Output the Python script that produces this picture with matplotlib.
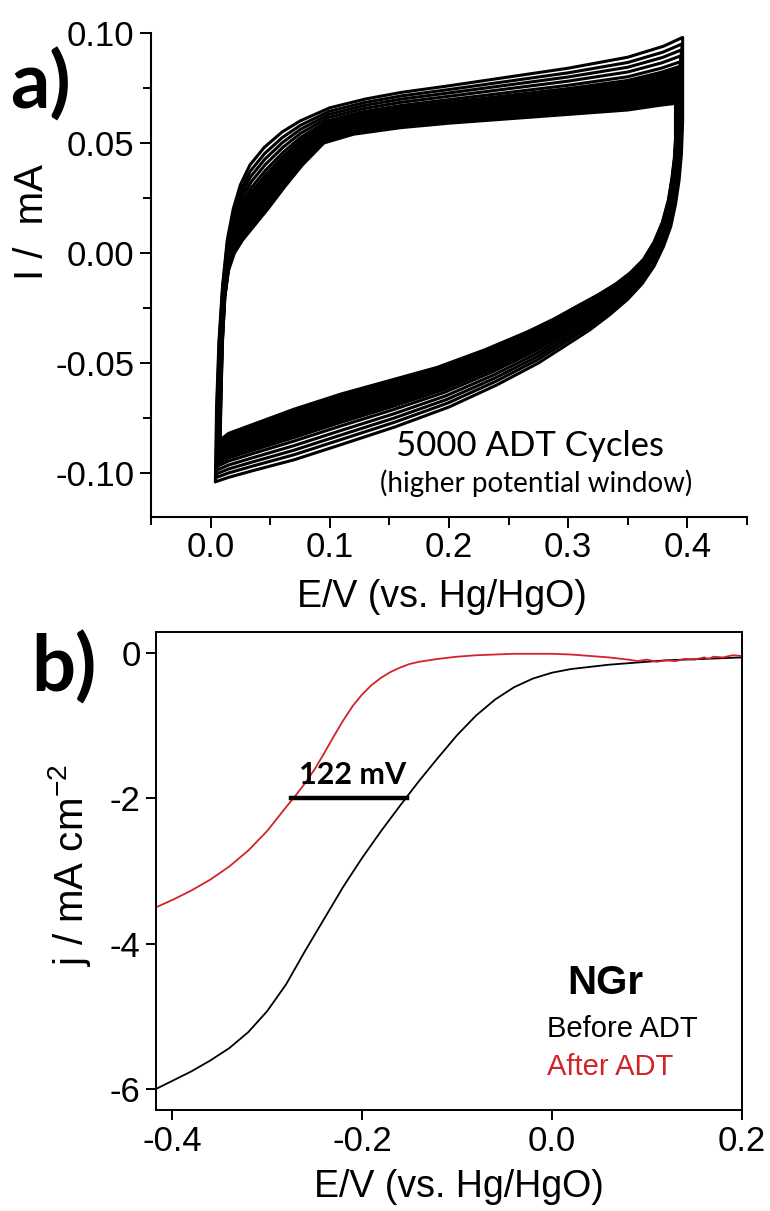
import numpy as np
import matplotlib.pyplot as plt
from matplotlib.ticker import MultipleLocator, FormatStrFormatter

# a) CV envelope: innermost and outermost cycle, closed loop
#    (anodic branch left->right, then cathodic branch right->left)
cv_outer_E = [0.004, 0.005, 0.007, 0.010, 0.014, 0.019, 0.025, 0.033, 0.045, 0.060,
              0.075, 0.100, 0.130, 0.160, 0.200, 0.250, 0.300, 0.350, 0.380, 0.396,
              0.396, 0.396, 0.395, 0.393, 0.390, 0.386, 0.380, 0.372, 0.362, 0.350,
              0.335, 0.318, 0.298, 0.275, 0.240, 0.200, 0.155, 0.110, 0.070, 0.035,
              0.015, 0.004]
cv_outer_I = [-0.104, -0.070, -0.040, -0.015, 0.006, 0.020, 0.031, 0.040, 0.048, 0.055,
              0.060, 0.066, 0.070, 0.073, 0.076, 0.080, 0.084, 0.089, 0.094, 0.098,
              0.080, 0.060, 0.045, 0.033, 0.022, 0.012, 0.003, -0.006, -0.014, -0.021,
              -0.028, -0.035, -0.042, -0.050, -0.060, -0.070, -0.079, -0.087, -0.094, -0.099,
              -0.102, -0.104]
cv_inner_E = [0.008, 0.009, 0.010, 0.012, 0.015, 0.020, 0.027, 0.036, 0.048, 0.062,
              0.077, 0.095, 0.120, 0.160, 0.200, 0.250, 0.300, 0.350, 0.375, 0.390,
              0.390, 0.390, 0.389, 0.387, 0.384, 0.379, 0.372, 0.363, 0.352, 0.340,
              0.325, 0.308, 0.288, 0.265, 0.230, 0.190, 0.150, 0.110, 0.070, 0.035,
              0.015, 0.008]
cv_inner_I = [-0.085, -0.060, -0.040, -0.020, -0.008, 0.000, 0.006, 0.012, 0.020, 0.030,
              0.040, 0.050, 0.054, 0.057, 0.059, 0.061, 0.063, 0.065, 0.067, 0.068,
              0.062, 0.052, 0.043, 0.034, 0.024, 0.014, 0.005, -0.003, -0.009, -0.014,
              -0.019, -0.024, -0.030, -0.036, -0.044, -0.052, -0.058, -0.064, -0.071, -0.078,
              -0.082, -0.085]
# position of each recorded cycle between the inner (0) and outer (1) loop
cycle_pos = [0.0, 0.04, 0.08, 0.12, 0.16, 0.20, 0.24, 0.28, 0.32, 0.36,
             0.40, 0.44, 0.48, 0.52, 0.56, 0.63, 0.72, 0.81, 0.90, 1.0]

# b) LSV before / after ADT
E_before = [-0.417, -0.40, -0.38, -0.36, -0.34, -0.32, -0.30, -0.28, -0.26, -0.24,
            -0.22, -0.20, -0.18, -0.16, -0.14, -0.12, -0.10, -0.08, -0.06, -0.04,
            -0.02, 0.00, 0.02, 0.04, 0.06, 0.08, 0.10, 0.12, 0.14, 0.16, 0.18, 0.20]
j_before = [-6.00, -5.89, -5.76, -5.61, -5.44, -5.22, -4.93, -4.56, -4.10, -3.66,
            -3.22, -2.82, -2.45, -2.10, -1.76, -1.44, -1.13, -0.86, -0.64, -0.47,
            -0.35, -0.27, -0.22, -0.19, -0.16, -0.14, -0.12, -0.10, -0.09, -0.08, -0.07, -0.06]
E_after = [-0.417, -0.40, -0.38, -0.36, -0.34, -0.32, -0.30, -0.28, -0.27, -0.26,
           -0.25, -0.24, -0.23, -0.22, -0.21, -0.20, -0.19, -0.18, -0.17, -0.16,
           -0.15, -0.14, -0.12, -0.10, -0.08, -0.06, -0.04, -0.02, 0.00, 0.02,
           0.04, 0.06, 0.08, 0.09, 0.10, 0.11, 0.12, 0.13, 0.14, 0.15,
           0.16, 0.165, 0.17, 0.18, 0.19, 0.20]
j_after = [-3.50, -3.40, -3.27, -3.12, -2.94, -2.72, -2.45, -2.12, -1.96, -1.79,
           -1.60, -1.38, -1.15, -0.93, -0.73, -0.57, -0.44, -0.34, -0.26, -0.20,
           -0.15, -0.12, -0.08, -0.05, -0.03, -0.02, -0.01, -0.01, -0.01, -0.02,
           -0.04, -0.06, -0.09, -0.11, -0.09, -0.12, -0.10, -0.11, -0.08, -0.09,
           -0.06, -0.08, -0.05, -0.06, -0.03, -0.04]
# potentials at -2 mA cm-2
E_half_after = -0.275
E_half_before = -0.153
j_ref = -2.0

RED = '#d2232a'
SANS = ['Liberation Sans', 'DejaVu Sans']
HUMAN = ['Lato', 'DejaVu Sans']

plt.rcParams['font.family'] = SANS
plt.rcParams['axes.unicode_minus'] = False
plt.rcParams['mathtext.fontset'] = 'custom'
plt.rcParams['mathtext.rm'] = 'Liberation Sans'
plt.rcParams['mathtext.default'] = 'regular'

fig = plt.figure(figsize=(7.7, 12.11), dpi=100)

# ---------- a) CV cycling ----------
ax1 = fig.add_axes([151 / 770, 1 - 517 / 1211, 596 / 770, 484 / 1211])
Eo, Io = np.array(cv_outer_E), np.array(cv_outer_I)
Ei, Ii = np.array(cv_inner_E), np.array(cv_inner_I)
for p in cycle_pos:
    ax1.plot((1 - p) * Ei + p * Eo, (1 - p) * Ii + p * Io, color='black', lw=2.2,
             solid_joinstyle='round', solid_capstyle='round')

ax1.set_xlim(-0.05, 0.45)
ax1.set_ylim(-0.12, 0.10)
ax1.spines[['top', 'right']].set_visible(False)
for s in ax1.spines.values():
    s.set_linewidth(1.5)
ax1.xaxis.set_major_locator(MultipleLocator(0.1))
ax1.xaxis.set_minor_locator(MultipleLocator(0.05))
ax1.yaxis.set_major_locator(MultipleLocator(0.05))
ax1.yaxis.set_minor_locator(MultipleLocator(0.025))
ax1.xaxis.set_major_formatter(FormatStrFormatter('%.1f'))
ax1.yaxis.set_major_formatter(FormatStrFormatter('%.2f'))
ax1.tick_params(which='major', direction='out', length=8, width=1.4, labelsize=25, pad=4)
ax1.tick_params(which='minor', direction='out', length=6, width=1.4)
ax1.tick_params(axis='x', which='major', pad=2)

ax1.set_xlabel('E/V (vs. Hg/HgO)', fontsize=27, va='center')
ax1.xaxis.set_label_coords(0.488, -0.165)
ax1.set_ylabel('I /  mA', fontsize=29, va='center')
ax1.yaxis.set_label_coords(-0.2, 0.61)

ax1.text(0.636, 0.147, '5000 ADT Cycles', transform=ax1.transAxes, fontsize=25,
         family=HUMAN, ha='center', va='center')
ax1.text(0.646, 0.070, '(higher potential window)', transform=ax1.transAxes, fontsize=20,
         family=HUMAN, ha='center', va='center')
fig.text(40 / 770, 1 - 85 / 1211, 'a)', fontsize=56, fontweight='bold', family=HUMAN,
         ha='center', va='center')

# ---------- b) LSV before / after ADT ----------
ax2 = fig.add_axes([156 / 770, 1 - 1110 / 1211, 586 / 770, 478 / 1211])
ax2.plot(E_before, j_before, color='black', lw=1.3)
ax2.plot(E_after, j_after, color=RED, lw=1.3)
ax2.plot([E_half_after, E_half_before], [j_ref, j_ref], color='black', lw=3.2)
shift = round((E_half_before - E_half_after) * 1000)
ax2.text((E_half_after + E_half_before) / 2 + 0.004, j_ref + 0.32, f'{shift} mV',
         fontsize=22, fontweight='bold', family=HUMAN, ha='center', va='center')

ax2.set_xlim(-0.417, 0.2)
ax2.set_ylim(-6.29, 0.29)
for s in ax2.spines.values():
    s.set_linewidth(1.4)
ax2.set_xticks([-0.4, -0.2, 0.0, 0.2])
ax2.set_yticks([0, -2, -4, -6])
ax2.xaxis.set_major_formatter(FormatStrFormatter('%.1f'))
ax2.yaxis.set_major_formatter(FormatStrFormatter('%d'))
ax2.tick_params(direction='out', length=7, width=1.4, labelsize=25, pad=4)

ax2.set_xlabel('E/V (vs. Hg/HgO)', fontsize=27, va='center')
ax2.xaxis.set_label_coords(0.517, -0.161)
ax2.set_ylabel('j / mA cm$^{-2}$', fontsize=29, va='center')
ax2.yaxis.set_label_coords(-0.147, 0.513)

ax2.text(0.766, 0.266, 'NGr', transform=ax2.transAxes, fontsize=29, fontweight='bold',
         ha='center', va='center')
ax2.text(0.667, 0.169, 'Before ADT', transform=ax2.transAxes, fontsize=21,
         color='black', ha='left', va='center')
ax2.text(0.667, 0.090, 'After ADT', transform=ax2.transAxes, fontsize=21,
         color=RED, ha='left', va='center')
fig.text(64 / 770, 1 - 668 / 1211, 'b)', fontsize=56, fontweight='bold', family=HUMAN,
         ha='center', va='center')

fig.savefig('out.png', dpi=100)
